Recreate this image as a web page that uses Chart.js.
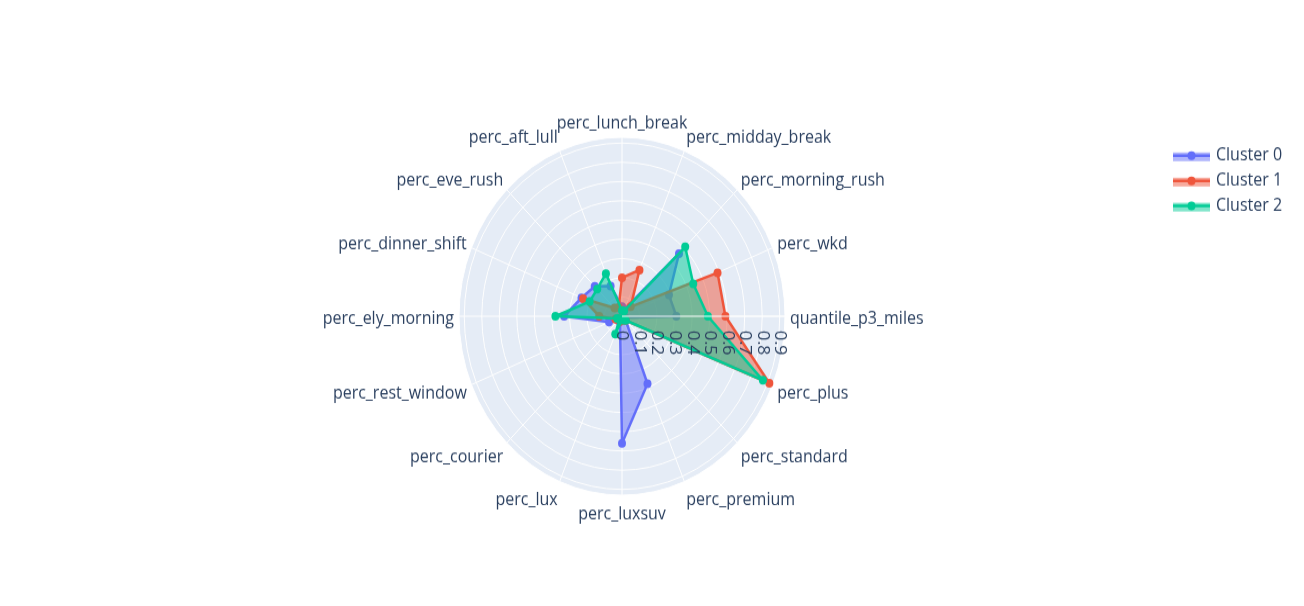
<!DOCTYPE html>
<html>
<head>
<meta charset="utf-8">
<script src="https://cdn.jsdelivr.net/npm/chart.js@4.4.1/dist/chart.umd.min.js"></script>
<style>
html,body{margin:0;padding:0;background:#fff;overflow:hidden;width:1304px;height:606px}
#wrap{position:absolute;left:0;top:0;width:1304px;height:552px;transform:scaleY(1.098);transform-origin:0 0}
canvas{display:block}
</style>
</head>
<body>
<div id="wrap"><canvas id="c" width="1304" height="552" style="width:1304px;height:552px"></canvas></div>
<script>
// Categories in counter-clockwise order starting at the right (0 deg)
const categories = ['quantile_p3_miles','perc_wkd','perc_morning_rush','perc_midday_break','perc_lunch_break',
  'perc_aft_lull','perc_eve_rush','perc_dinner_shift','perc_ely_morning','perc_rest_window','perc_courier',
  'perc_lux','perc_luxsuv','perc_premium','perc_standard','perc_plus'];
const seriesNames = ['Cluster 0','Cluster 1','Cluster 2'];
const cluster0 = [0.31,0.29,0.46,0.04,0.05,0.17,0.22,0.25,0.33,0.08,0.03,0.03,0.66,0.38,0.03,0.02];
const cluster1 = [0.59,0.59,0.07,0.26,0.20,0.05,0.06,0.24,0.13,0.04,0.02,0.03,0.02,0.02,0.03,0.91];
const cluster2 = [0.49,0.44,0.51,0.03,0.03,0.24,0.20,0.20,0.38,0.03,0.02,0.10,0.02,0.02,0.03,0.87];
const tickValues = [0,0.1,0.2,0.3,0.4,0.5,0.6,0.7,0.8,0.9];
const tickLabels = ['0','0.1','0.2','0.3','0.4','0.5','0.6','0.7','0.8','0.9'];
const radialMax = 0.93;
const colors = ['#636efa','#EF553B','#00cc96'];
const fills = ['rgba(99,110,250,0.5)','rgba(239,85,59,0.5)','rgba(0,204,150,0.5)'];

// Chart.js places labels clockwise; reorder to get the counter-clockwise layout
const order = [0];
for (let i = categories.length - 1; i >= 1; i--) order.push(i);
const reorder = arr => order.map(i => arr[i]);
const labels = reorder(categories);

const FONT = '"Open Sans", Verdana, Arial, sans-serif';
const TXT = '#2a3f5f';
const SY = 1.098;

const polarBg = {
  id: 'polarBg',
  beforeDraw(chart) {
    const s = chart.scales.r, ctx = chart.ctx;
    ctx.save();
    ctx.fillStyle = '#E5ECF6';
    ctx.beginPath();
    ctx.arc(s.xCenter, s.yCenter, s.drawingArea, 0, Math.PI * 2);
    ctx.fill();
    ctx.restore();
  },
  afterDatasetsDraw(chart) {
    const s = chart.scales.r, ctx = chart.ctx;
    ctx.save();
    // radial axis line above traces
    ctx.strokeStyle = '#fff';
    ctx.lineWidth = 1;
    ctx.beginPath();
    ctx.moveTo(s.xCenter, s.yCenter);
    ctx.lineTo(s.xCenter + s.drawingArea, s.yCenter);
    ctx.stroke();
    // radial tick labels, rotated 90deg
    ctx.fillStyle = TXT;
    ctx.font = '16px ' + FONT;
    ctx.textAlign = 'left';
    ctx.textBaseline = 'middle';
    tickValues.forEach((v, i) => {
      const x = s.xCenter + s.getDistanceFromCenterForValue(v);
      ctx.save();
      ctx.translate(x, s.yCenter + 13);
      ctx.rotate(Math.PI / 2);
      ctx.fillText(tickLabels[i], 0, 0);
      ctx.restore();
    });
    // angular labels
    labels.forEach((lab, i) => {
      const p = s.getPointPosition(i, s.drawingArea + 5);
      const c = Math.cos(p.angle), sn = -Math.sin(p.angle);
      ctx.textAlign = Math.abs(c) < 0.1 ? 'center' : (c > 0 ? 'left' : 'right');
      const off = (2.5 - 11.35 * sn) / SY;
      ctx.fillText(lab, p.x, p.y + off);
    });
    ctx.restore();
  },
  afterDraw(chart) {
    const ctx = chart.ctx;
    ctx.save();
    const x0 = 1173, x1 = 1210, ys = [141.8, 164.8, 187.6];
    chart.data.datasets.forEach((ds, i) => {
      const y = ys[i];
      ctx.fillStyle = ds.backgroundColor;
      ctx.fillRect(x0, y - 3, x1 - x0, 8);
      ctx.strokeStyle = ds.borderColor;
      ctx.lineWidth = 2.5;
      ctx.beginPath();
      ctx.moveTo(x0, y);
      ctx.lineTo(x1, y);
      ctx.stroke();
      ctx.fillStyle = ds.borderColor;
      ctx.beginPath();
      ctx.arc((x0 + x1) / 2, y, 4, 0, Math.PI * 2);
      ctx.fill();
      ctx.fillStyle = TXT;
      ctx.font = '16px ' + FONT;
      ctx.textAlign = 'left';
      ctx.textBaseline = 'middle';
      ctx.fillText(ds.label, 1216, y);
    });
    ctx.restore();
  }
};

const seriesData = [cluster0, cluster1, cluster2];
const datasets = seriesData.map((d, i) => ({
  label: seriesNames[i],
  data: reorder(d),
  borderColor: colors[i],
  backgroundColor: fills[i],
  fill: true,
  borderWidth: 2.5,
  borderJoinStyle: 'round',
  pointRadius: 4,
  pointHoverRadius: 4,
  pointBackgroundColor: colors[i],
  pointBorderColor: colors[i],
  pointBorderWidth: 0,
  order: 2 - i
}));

new Chart(document.getElementById('c'), {
  type: 'radar',
  data: { labels, datasets },
  options: {
    responsive: false,
    animation: false,
    events: [],
    layout: { padding: { left: 459, right: 519, top: 125, bottom: 101 } },
    plugins: { legend: { display: false }, tooltip: { enabled: false } },
    elements: { line: { tension: 0 } },
    scales: {
      r: {
        min: 0,
        max: radialMax,
        startAngle: 90,
        afterBuildTicks: (axis) => {
          axis.ticks = tickValues.concat([radialMax]).map(v => ({ value: v }));
        },
        ticks: { display: false },
        grid: { circular: true, color: '#ffffff', lineWidth: 1 },
        angleLines: { color: '#ffffff', lineWidth: 1 },
        pointLabels: { display: false }
      }
    }
  },
  plugins: [polarBg]
});
</script>
</body>
</html>
